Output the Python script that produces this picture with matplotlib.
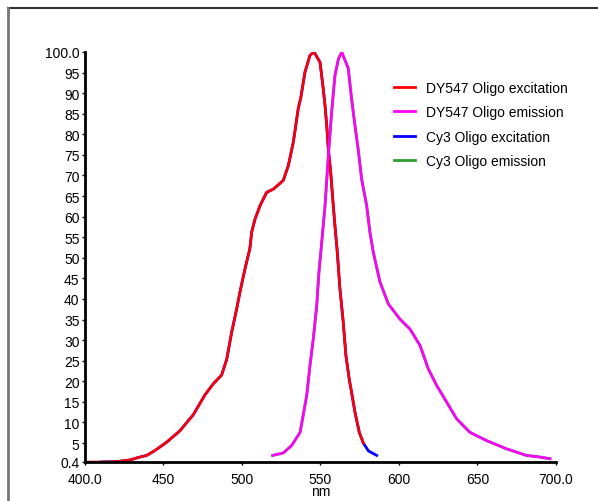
import matplotlib
matplotlib.use("Agg")
import matplotlib.pyplot as plt
from matplotlib.lines import Line2D

# excitation spectrum (DY547 / Cy3 overlap almost exactly)
ex_nm = [400, 410, 420, 428.7, 434, 439.3, 444.6, 452, 460.5, 469, 476.4, 481.7, 487,
         490.3, 493.4, 496.6, 498.7, 501.9, 505, 506.2, 508.3, 511.5, 515.7, 520,
         526.3, 529.5, 532.7, 535.8, 537.5, 540.1, 543.3, 545.9, 549.7, 551.8, 552.9,
         554, 555, 556.5, 557.8, 559.2, 560.6, 562.4, 564.5, 566.2, 568.3, 569.8,
         572, 574.7, 577.3, 580.5, 585.8]
ex_val = [0.4, 0.4, 0.5, 0.9, 1.5, 2.0, 3.2, 5.2, 8.0, 11.9, 16.7, 19.4, 21.5,
          25.4, 31.9, 37.6, 41.7, 47.3, 52.2, 56.3, 59.4, 62.7, 65.9, 66.7,
          68.8, 72.4, 78.1, 86.2, 89.0, 95.1, 99.2, 100.0, 97.5, 90.9, 86.9,
          82.0, 76.4, 70.8, 64.3, 57.8, 51.8, 42.4, 34.3, 26.2, 20.5, 17.3,
          12.4, 7.6, 5.0, 3.1, 2.0]

# emission spectrum
em_nm = [519.5, 526.3, 531.6, 537, 541.2, 543.3, 545.4, 547.6, 549, 550.4, 552.9,
         555, 557.1, 559.2, 561.4, 563.5, 567.7, 569.8, 572, 574, 576.2, 579.4,
         581.5, 583.6, 587.9, 593.2, 600.6, 607, 613.4, 618.7, 624, 630.4, 636.7,
         645.2, 655.8, 668.5, 681.2, 689.8, 696.2]
em_val = [2.0, 2.6, 4.4, 7.6, 16.5, 23.8, 30.3, 38.4, 46.5, 52.2, 62.7,
          74.8, 85.4, 94.3, 98.3, 100.0, 96.0, 88.6, 82.0, 76.4, 69.1, 62.7,
          56.2, 51.4, 44.1, 38.8, 35.1, 32.7, 28.7, 23.0, 19.0, 14.9, 10.9,
          7.6, 5.6, 3.6, 2.0, 1.6, 1.2]

labels = ["DY547 Oligo excitation", "DY547 Oligo emission",
          "Cy3 Oligo excitation", "Cy3 Oligo emission"]
colors = ["#ff0000", "#ff00ff", "#0000ff", "#2ca02c"]

y_ticks = [0.4] + list(range(5, 100, 5)) + [100]
y_ticklabels = ["0.4"] + [str(v) for v in range(5, 100, 5)] + ["100.0"]
x_ticks = [400, 450, 500, 550, 600, 650, 700]
x_ticklabels = ["400.0", "450", "500", "550", "600", "650", "700.0"]

plt.rcParams["font.family"] = ["Liberation Sans", "DejaVu Sans"]

fig = plt.figure(figsize=(5.98, 5.02), dpi=100)
# outer frame (top and left edges visible)
fig.add_artist(Line2D([8 / 598, 1], [1 - 9 / 502, 1 - 9 / 502], color="#333333", lw=1.5))
fig.add_artist(Line2D([8 / 598, 8 / 598], [0, 1 - 9 / 502], color="#777777", lw=2))

ax = fig.add_axes([85 / 598, 39 / 502, 471 / 598, 410 / 502])

# Cy3 drawn first, DY547 on top
cy3_ex_nm = [n for n in ex_nm if n >= 410]
cy3_ex_val = ex_val[len(ex_nm) - len(cy3_ex_nm):]
ax.plot(cy3_ex_nm, cy3_ex_val, color=colors[2], lw=2.0)
ax.plot(em_nm, em_val, color=colors[3], lw=2.0)

dy_ex_nm = [n for n in ex_nm if n <= 578.3]
dy_ex_val = ex_val[:len(dy_ex_nm)]
ax.plot(dy_ex_nm, dy_ex_val, color=colors[0], lw=1.9)
ax.plot(em_nm, em_val, color=colors[1], lw=1.9)

ax.set_xlim(400, 700)
ax.set_ylim(0.4, 100)
ax.set_xticks(x_ticks)
ax.set_xticklabels(x_ticklabels)
ax.set_yticks(y_ticks)
ax.set_yticklabels(y_ticklabels)
ax.tick_params(axis="y", length=2, width=1, labelsize=10, pad=2)
ax.tick_params(axis="x", length=2, width=1, labelsize=10, pad=5)
ax.set_xlabel("nm", fontsize=10, labelpad=-1)

for side in ["top", "right"]:
    ax.spines[side].set_visible(False)
for side in ["left", "bottom"]:
    ax.spines[side].set_linewidth(2)

handles = [Line2D([], [], color=c, lw=2) for c in colors]
ax.legend(handles, labels, loc="upper left", bbox_to_anchor=(0.63, 0.96),
          frameon=False, fontsize=10, handlelength=1.5, labelspacing=0.75)

fig.savefig("out.png", dpi=100)
